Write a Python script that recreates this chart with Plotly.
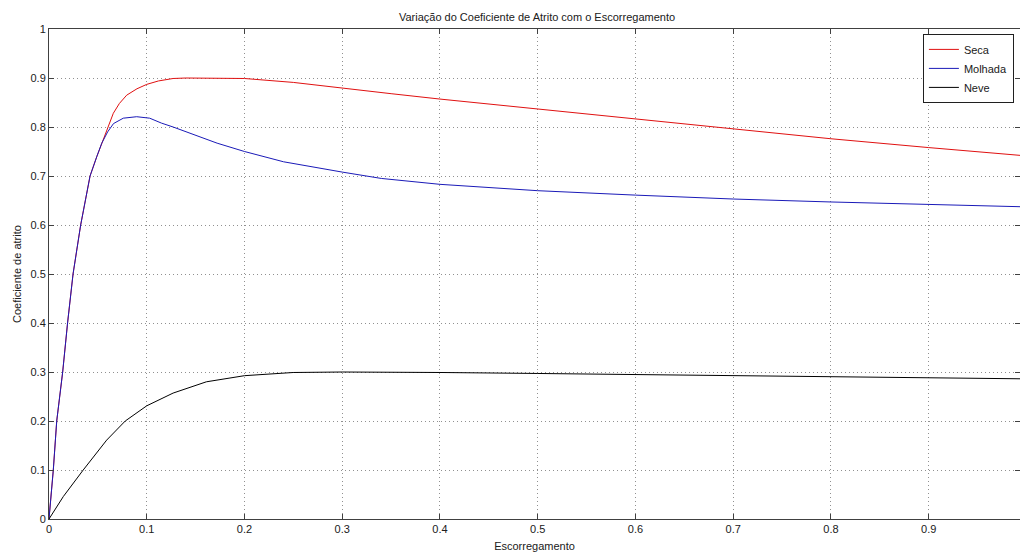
import plotly.graph_objects as go

# Slip values and friction coefficients
slip_seca = [0, 0.0044, 0.0079, 0.014, 0.019, 0.0246, 0.0324, 0.042, 0.0488, 0.054, 0.060, 0.0658,
             0.072, 0.0795, 0.09, 0.1, 0.112, 0.127, 0.14, 0.16, 0.18, 0.2, 0.25, 0.3, 0.35, 0.4,
             0.5, 0.6, 0.7, 0.8, 0.9, 1.0]
mu_seca = [0, 0.1, 0.2, 0.3, 0.4, 0.5, 0.6, 0.7, 0.739, 0.767, 0.800, 0.828,
           0.848, 0.865, 0.878, 0.887, 0.894, 0.899, 0.900, 0.900, 0.900, 0.899, 0.891, 0.879, 0.868, 0.857,
           0.837, 0.816, 0.796, 0.776, 0.758, 0.741]

slip_molhada = [0, 0.0044, 0.0079, 0.014, 0.019, 0.0246, 0.0324, 0.042, 0.0488, 0.054, 0.060, 0.066,
                0.076, 0.0897, 0.103, 0.115, 0.127, 0.14, 0.155, 0.172, 0.2, 0.24, 0.3, 0.34, 0.4,
                0.5, 0.6, 0.7, 0.8, 0.9, 1.0]
mu_molhada = [0, 0.1, 0.2, 0.3, 0.4, 0.5, 0.6, 0.7, 0.739, 0.767, 0.790, 0.807,
              0.818, 0.821, 0.818, 0.808, 0.800, 0.790, 0.779, 0.767, 0.750, 0.729, 0.708, 0.695, 0.683,
              0.670, 0.661, 0.653, 0.647, 0.642, 0.637]

slip_neve = [0, 0.0147, 0.035, 0.059, 0.078, 0.1, 0.127, 0.161, 0.2, 0.25, 0.3, 0.35, 0.4,
             0.5, 0.6, 0.7, 0.8, 0.9, 1.0]
mu_neve = [0, 0.046, 0.1, 0.161, 0.2, 0.231, 0.257, 0.280, 0.2925, 0.299, 0.300, 0.300, 0.299,
           0.297, 0.295, 0.293, 0.291, 0.288, 0.286]

x_ticks = [0, 0.1, 0.2, 0.3, 0.4, 0.5, 0.6, 0.7, 0.8, 0.9]
x_labels = ["0", "0.1", "0.2", "0.3", "0.4", "0.5", "0.6", "0.7", "0.8", "0.9"]
y_ticks = [0, 0.1, 0.2, 0.3, 0.4, 0.5, 0.6, 0.7, 0.8, 0.9, 1.0]
y_labels = ["0", "0.1", "0.2", "0.3", "0.4", "0.5", "0.6", "0.7", "0.8", "0.9", "1"]

FONT = "Liberation Sans, Arial, sans-serif"
W, H = 1020, 554
ML, MR, MT, MB = 49, 0, 29, 35

fig = go.Figure()
fig.add_trace(go.Scatter(x=slip_seca, y=mu_seca, mode="lines", name="Seca",
                         line=dict(color="#e01010", width=1)))
fig.add_trace(go.Scatter(x=slip_molhada, y=mu_molhada, mode="lines", name="Molhada",
                         line=dict(color="#1a1ab8", width=1)))
fig.add_trace(go.Scatter(x=slip_neve, y=mu_neve, mode="lines", name="Neve",
                         line=dict(color="#000000", width=1)))

axis_common = dict(
    showline=True, linecolor="#404040", linewidth=1, mirror="allticks",
    ticks="inside", ticklen=5, tickcolor="#404040",
    showgrid=True, gridcolor="#909090", griddash="1px,3px", gridwidth=1,
    zeroline=False, automargin=False,
    tickfont=dict(family=FONT, size=11, color="#202020"),
)

plot_w = W - ML - MR
fig.update_layout(
    width=W, height=H,
    margin=dict(l=ML, r=MR, t=MT, b=MB),
    paper_bgcolor="white", plot_bgcolor="white",
    font=dict(family=FONT, size=11, color="#202020"),
    title=dict(text="Variação do Coeficiente de Atrito com o Escorregamento",
               x=537 / W, xanchor="center",
               y=1 - 17 / H, yanchor="middle", yref="container",
               font=dict(family=FONT, size=11, color="#202020")),
    xaxis=dict(range=[0, 0.9934], tickvals=x_ticks, ticktext=x_labels,
               title=dict(text="Escorregamento", standoff=8,
                          font=dict(family=FONT, size=11, color="#202020")),
               **axis_common),
    yaxis=dict(range=[0, 1], tickvals=y_ticks, ticktext=y_labels, **axis_common),
    legend=dict(x=0.9, xanchor="left", y=0.99, yanchor="top",
                bgcolor="white", bordercolor="#202020", borderwidth=1,
                font=dict(family=FONT, size=11, color="#202020"),
                itemwidth=30, tracegroupgap=0),
    showlegend=True,
)

fig.add_annotation(text="Coeficiente de atrito", textangle=-90,
                   xref="paper", yref="paper", x=-(ML - 17) / plot_w, y=0.5,
                   xanchor="center", yanchor="middle", showarrow=False,
                   font=dict(family=FONT, size=11, color="#202020"))

fig.write_html(
    "out.html",
    config={"displayModeBar": False},
    post_script=("document.body.style.margin='0';"
                 "document.documentElement.style.overflow='hidden';"
                 "document.body.style.overflow='hidden';"),
)
